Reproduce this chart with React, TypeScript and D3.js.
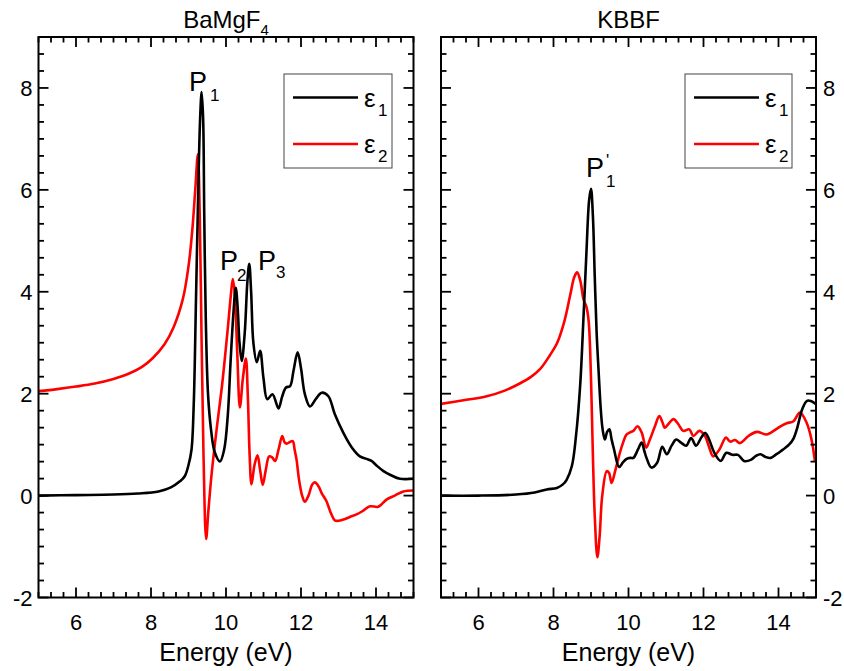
import React from "react";
import * as d3 from "d3";

// ---------------- DATA ----------------
const xTickValues = [6, 8, 10, 12, 14];
const yTickValues = [-2, 0, 2, 4, 6, 8];
const panelTitles = ["BaMgF", "KBBF"];
const titleSub = "4";
const axisLabel = "Energy (eV)";

// BaMgF4 black curve (legend: ε1)
const bamgfBlackE = [5.0, 6.0, 7.0, 7.65, 8.2, 8.53, 8.77, 8.9, 9.0, 9.08, 9.14, 9.2, 9.26, 9.31, 9.35, 9.39, 9.42, 9.46, 9.52, 9.6, 9.7, 9.84, 9.95, 10.05, 10.12, 10.2, 10.26, 10.31, 10.36, 10.42, 10.5, 10.57, 10.62, 10.67, 10.73, 10.82, 10.91, 11.0, 11.1, 11.24, 11.4, 11.5, 11.6, 11.71, 11.8, 11.91, 12.0, 12.1, 12.24, 12.4, 12.55, 12.73, 12.9, 13.13, 13.35, 13.57, 13.75, 13.88, 14.0, 14.2, 14.4, 14.64, 15.0];
const bamgfBlackV = [0.0, 0.01, 0.02, 0.04, 0.08, 0.16, 0.28, 0.38, 0.6, 0.9, 1.8, 3.86, 6.0, 7.4, 7.92, 7.4, 5.5, 3.5, 2.0, 1.3, 0.85, 0.67, 0.9, 1.6, 2.6, 3.6, 4.08, 3.7, 3.0, 2.64, 3.2, 4.2, 4.55, 4.0, 3.0, 2.62, 2.84, 2.3, 1.89, 1.99, 1.71, 1.95, 2.12, 2.15, 2.45, 2.81, 2.5, 2.0, 1.75, 1.9, 2.02, 1.95, 1.6, 1.23, 0.95, 0.77, 0.72, 0.68, 0.6, 0.48, 0.4, 0.33, 0.33];

// BaMgF4 red curve (legend: ε2)
const bamgfRedE = [5.0, 5.5, 6.0, 6.5, 7.0, 7.4, 7.75, 8.05, 8.36, 8.6, 8.85, 9.0, 9.1, 9.18, 9.25, 9.3, 9.35, 9.4, 9.47, 9.53, 9.62, 9.75, 9.9, 10.05, 10.12, 10.18, 10.23, 10.3, 10.37, 10.45, 10.53, 10.58, 10.63, 10.68, 10.76, 10.84, 10.91, 10.98, 11.06, 11.15, 11.23, 11.31, 11.4, 11.5, 11.56, 11.62, 11.7, 11.78, 11.83, 11.88, 11.95, 12.03, 12.1, 12.2, 12.3, 12.37, 12.47, 12.55, 12.68, 12.8, 12.91, 13.13, 13.3, 13.48, 13.65, 13.84, 14.06, 14.28, 14.5, 14.73, 15.0];
const bamgfRedV = [2.05, 2.09, 2.14, 2.2, 2.29, 2.39, 2.52, 2.7, 2.97, 3.3, 3.86, 4.5, 5.2, 6.0, 6.7, 5.5, 3.0, 0.8, -0.85, -0.3, 0.45, 1.3, 2.2, 3.3, 3.86, 4.25, 4.0, 2.8, 1.73, 2.3, 2.69, 2.0, 0.8, 0.22, 0.6, 0.79, 0.5, 0.21, 0.5, 0.77, 0.75, 0.68, 0.9, 1.17, 1.05, 1.02, 1.05, 1.07, 0.9, 0.71, 0.3, 0.0, -0.12, 0.0, 0.22, 0.26, 0.18, 0.05, -0.11, -0.35, -0.49, -0.47, -0.42, -0.37, -0.3, -0.21, -0.22, -0.08, 0.0, 0.08, 0.1];

// KBBF black curve (legend: ε1)
const kbbfBlackE = [5.0, 6.0, 7.0, 7.5, 7.82, 8.09, 8.25, 8.35, 8.49, 8.6, 8.71, 8.8, 8.88, 8.95, 9.0, 9.05, 9.1, 9.15, 9.2, 9.26, 9.31, 9.37, 9.43, 9.49, 9.55, 9.61, 9.75, 9.85, 9.95, 10.05, 10.13, 10.25, 10.35, 10.42, 10.48, 10.61, 10.76, 10.9, 11.02, 11.15, 11.27, 11.4, 11.54, 11.67, 11.8, 11.95, 12.05, 12.15, 12.29, 12.46, 12.61, 12.77, 12.92, 13.08, 13.26, 13.4, 13.52, 13.65, 13.79, 13.92, 14.06, 14.28, 14.4, 14.5, 14.63, 14.76, 14.88, 15.0];
const kbbfBlackV = [0.0, 0.0, 0.02, 0.06, 0.12, 0.15, 0.22, 0.31, 0.58, 1.17, 2.15, 3.5, 4.8, 5.8, 6.02, 5.5, 4.3, 3.2, 2.48, 1.7, 1.3, 1.1, 1.25, 1.3, 1.1, 0.92, 0.56, 0.65, 0.72, 0.74, 0.74, 0.9, 1.04, 0.88, 0.74, 0.55, 0.64, 0.96, 0.81, 0.98, 1.1, 1.04, 0.98, 1.13, 0.98, 1.15, 1.23, 1.1, 0.84, 0.68, 0.84, 0.8, 0.8, 0.68, 0.7, 0.78, 0.81, 0.76, 0.74, 0.8, 0.87, 1.0, 1.12, 1.33, 1.69, 1.86, 1.85, 1.79];

// KBBF red curve (legend: ε2)
const kbbfRedE = [5.0, 5.6, 6.22, 6.7, 7.1, 7.4, 7.64, 7.9, 8.1, 8.3, 8.45, 8.55, 8.63, 8.72, 8.8, 8.88, 8.94, 9.0, 9.05, 9.1, 9.17, 9.23, 9.3, 9.42, 9.48, 9.55, 9.65, 9.77, 9.86, 9.95, 10.04, 10.13, 10.24, 10.35, 10.47, 10.57, 10.7, 10.82, 10.9, 10.97, 11.08, 11.2, 11.33, 11.46, 11.62, 11.73, 11.89, 12.04, 12.15, 12.26, 12.42, 12.6, 12.71, 12.84, 12.97, 13.2, 13.42, 13.69, 13.95, 14.1, 14.22, 14.4, 14.57, 14.75, 14.88, 14.97];
const kbbfRedV = [1.8, 1.87, 1.95, 2.06, 2.2, 2.33, 2.48, 2.75, 3.0, 3.45, 3.95, 4.28, 4.38, 4.2, 3.85, 3.7, 3.4, 2.3, 0.8, -0.4, -1.21, -0.8, 0.0, 0.48, 0.45, 0.25, 0.5, 0.84, 1.05, 1.2, 1.24, 1.27, 1.36, 1.24, 0.94, 1.1, 1.35, 1.56, 1.45, 1.33, 1.42, 1.5, 1.4, 1.27, 1.3, 1.17, 1.27, 1.17, 0.95, 0.77, 0.9, 1.14, 1.06, 1.09, 1.03, 1.17, 1.25, 1.2, 1.31, 1.38, 1.42, 1.46, 1.63, 1.43, 1.1, 0.68];

// ---------------- LAYOUT ----------------
const W = 844;
const H = 671;
const TOP = 37;
const BOTTOM = 597.5;
const FONT = "'Liberation Sans', Arial, sans-serif";

const yScale = d3.scaleLinear().domain([-2, 9]).range([BOTTOM, TOP]);

type PanelProps = {
  idx: number;
  left: number;
  right: number;
  blackE: number[];
  blackV: number[];
  redE: number[];
  redV: number[];
  labelsRight: boolean;
};

function Panel({ idx, left, right, blackE, blackV, redE, redV, labelsRight }: PanelProps) {
  const x = d3.scaleLinear().domain([5, 15]).range([left, right]);
  const line = d3
    .line<[number, number]>()
    .x((d) => x(d[0]))
    .y((d) => yScale(d[1]))
    .curve(d3.curveCatmullRom.alpha(0.5));
  const blackPts = blackE.map((e, i) => [e, blackV[i]] as [number, number]);
  const redPts = redE.map((e, i) => [e, redV[i]] as [number, number]);
  const minorX = d3.range(0, 31).map((i) => 5 + i / 3);
  const minorY = d3.range(0, 34).map((i) => -2 + i / 3);
  const clipId = `clip${idx}`;
  const MAJ = 10;
  const MIN = 5.5;
  const cx = (left + right) / 2;
  const ticks: any[] = [];
  minorX.forEach((v, i) => {
    const isMaj = xTickValues.some((t) => Math.abs(t - v) < 1e-6);
    const len = isMaj ? MAJ : MIN;
    const px = x(v);
    ticks.push(<line key={`xb${i}`} x1={px} x2={px} y1={BOTTOM} y2={BOTTOM - len} />);
    ticks.push(<line key={`xt${i}`} x1={px} x2={px} y1={TOP} y2={TOP + len} />);
  });
  minorY.forEach((v, i) => {
    const isMaj = yTickValues.some((t) => Math.abs(t - v) < 1e-6);
    const len = isMaj ? MAJ : MIN;
    const py = yScale(v);
    ticks.push(<line key={`yl${i}`} x1={left} x2={left + len} y1={py} y2={py} />);
    ticks.push(<line key={`yr${i}`} x1={right} x2={right - len} y1={py} y2={py} />);
  });
  return (
    <g>
      <defs>
        <clipPath id={clipId}>
          <rect x={left} y={TOP} width={right - left} height={BOTTOM - TOP} />
        </clipPath>
      </defs>
      <g clipPath={`url(#${clipId})`} fill="none" strokeWidth={2.6} strokeLinejoin="round">
        <path d={line(redPts) || ""} stroke="#ff0000" />
        <path d={line(blackPts) || ""} stroke="#000000" />
      </g>
      <g stroke="#000" strokeWidth={1.8}>{ticks}</g>
      <rect x={left} y={TOP} width={right - left} height={BOTTOM - TOP} fill="none" stroke="#000" strokeWidth={2} />
      <g fontFamily={FONT} fontSize={22} fill="#000">
        {xTickValues.map((t) => (
          <text key={`xl${t}`} x={x(t)} y={630} textAnchor="middle">{t}</text>
        ))}
        {yTickValues.map((t) => (
          <text
            key={`yl${t}`}
            x={labelsRight ? right + 7 : left - 6}
            y={yScale(t) + 8}
            textAnchor={labelsRight ? "start" : "end"}
          >
            {t}
          </text>
        ))}
      </g>
      <text x={cx} y={661} textAnchor="middle" fontFamily={FONT} fontSize={25}>{axisLabel}</text>
    </g>
  );
}

function Legend({ left, right }: { left: number; right: number }) {
  return (
    <g fontFamily={FONT}>
      <rect x={left} y={74} width={right - left} height={94} fill="#fff" stroke="#444" strokeWidth={1} />
      <line x1={left + 9} x2={left + 74} y1={97.5} y2={97.5} stroke="#000" strokeWidth={2.6} />
      <line x1={left + 9} x2={left + 74} y1={144} y2={144} stroke="#ff0000" strokeWidth={2.6} />
      <text x={left + 80} y={107} fontSize={26}>ε</text>
      <text x={left + 94} y={116} fontSize={17}>1</text>
      <text x={left + 80} y={153} fontSize={26}>ε</text>
      <text x={left + 94} y={162} fontSize={17}>2</text>
    </g>
  );
}

export default function App() {
  const L = [38.5, 413.5];
  const R = [441, 816];
  return (
    <svg width={W} height={H} style={{ display: "block", position: "absolute", left: 0, top: 0, background: "#fff" }}>
      <rect width={W} height={H} fill="#fff" />
      <Panel idx={0} left={L[0]} right={L[1]} blackE={bamgfBlackE} blackV={bamgfBlackV} redE={bamgfRedE} redV={bamgfRedV} labelsRight={false} />
      <Panel idx={1} left={R[0]} right={R[1]} blackE={kbbfBlackE} blackV={kbbfBlackV} redE={kbbfRedE} redV={kbbfRedV} labelsRight={true} />
      <Legend left={284} right={392} />
      <Legend left={685} right={792} />
      <g fontFamily={FONT} fill="#000">
        <text x={(L[0] + L[1]) / 2} y={28} textAnchor="middle" fontSize={24}>
          {panelTitles[0]}
          <tspan fontSize={15} dy={7}>{titleSub}</tspan>
        </text>
        <text x={(R[0] + R[1]) / 2} y={28} textAnchor="middle" fontSize={24}>{panelTitles[1]}</text>
        <text x={189} y={91} fontSize={27}>P</text>
        <text x={210} y={101} fontSize={17}>1</text>
        <text x={220} y={270} fontSize={27}>P</text>
        <text x={237} y={281} fontSize={17}>2</text>
        <text x={258} y={270} fontSize={27}>P</text>
        <text x={276} y={278} fontSize={17}>3</text>
        <text x={586} y={177} fontSize={27}>P</text>
        <text x={606} y={166} fontSize={17}>'</text>
        <text x={606} y={187} fontSize={17}>1</text>
      </g>
    </svg>
  );
}
